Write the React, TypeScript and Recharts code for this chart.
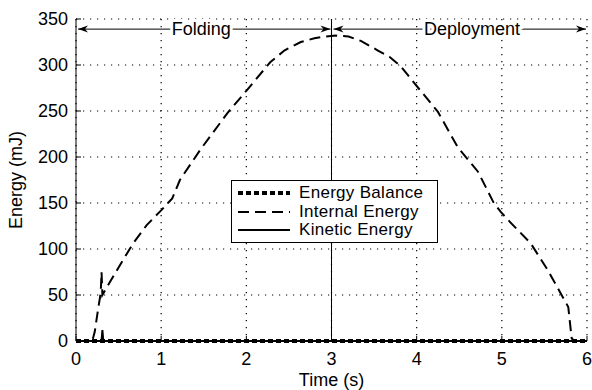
import { LineChart, Line, XAxis, YAxis, CartesianGrid, ReferenceLine, Legend } from 'recharts';

const internalTime = [0, 0.15, 0.2, 0.22, 0.26, 0.29, 0.3, 0.31, 0.36, 0.5, 0.67, 0.83, 1.0, 1.13, 1.22, 1.46, 1.78, 2.01, 2.28, 2.45, 2.64, 2.8, 2.93, 3.05, 3.2, 3.35, 3.54, 3.68, 3.81, 4.02, 4.25, 4.48, 4.72, 4.9, 4.99, 5.1, 5.34, 5.54, 5.78, 5.8, 5.82, 5.85, 6.0];
const internalEnergy = [0, 0, 3, 10, 35, 52, 75, 50, 58, 80, 106, 126, 142, 155, 175, 208, 248, 273, 303, 316, 325, 329, 331, 332, 331, 326, 316, 309, 299, 275, 249, 211, 184, 151, 140, 129, 106, 77, 37, 20, 3, 0, 0];
const kineticTime = [0, 0.3, 0.31, 0.32, 0.33, 6];
const kineticEnergy = [0, 0, 12, 0, 0, 0];
const balanceTime = [0, 6];
const balanceEnergy = [0, 0];

const xTicks = [0, 1, 2, 3, 4, 5, 6];
const yTicks = [0, 50, 100, 150, 200, 250, 300, 350];

const phaseNames = ['Folding', 'Deployment'];
const phaseStart = [0, 3];
const phaseEnd = [3, 6];
const phaseLabelAt = [0.49, 0.55];
const arrowLevel = 339;
const switchTime = 3;

const seriesNames = ['Energy Balance', 'Internal Energy', 'Kinetic Energy'];
const seriesWidth = [4, 2, 2];
const seriesDash = ['5 3', '11 6', undefined];

const toRows = (t: number[], v: number[]) => t.map((time, i) => ({ time, energy: v[i] }));
const balanceData = toRows(balanceTime, balanceEnergy);
const internalData = toRows(internalTime, internalEnergy);
const kineticData = toRows(kineticTime, kineticEnergy);

const FONT = '"Liberation Sans", Arial, sans-serif';

const PhaseArrow = (props: any) => {
  const { x1, x2, y1, name, at } = props;
  const head = (tip: number, dir: number) =>
    `M${tip},${y1} L${tip + dir * 10},${y1 - 3.5} L${tip + dir * 7},${y1} L${tip + dir * 10},${y1 + 3.5} Z`;
  const lx = x1 + 2;
  const rx = x2 - 1;
  return (
    <g>
      <line x1={lx} y1={y1} x2={rx} y2={y1} stroke="#000" strokeWidth={1} />
      <path d={head(lx, 1)} fill="#000" />
      <path d={head(rx, -1)} fill="#000" />
      <text
        x={x1 + (x2 - x1) * at}
        y={y1 + 6}
        textAnchor="middle"
        fontSize={18}
        fontFamily={FONT}
        fill="#000"
        stroke="#fff"
        strokeWidth={6}
        paintOrder="stroke"
      >
        {name}
      </text>
    </g>
  );
};

const renderLegend = () => (
  <div
    style={{
      border: '1.5px solid #000',
      background: '#fff',
      width: 207,
      height: 63,
      boxSizing: 'border-box',
      padding: '3px 0 0 6px',
      fontFamily: FONT,
    }}
  >
    {seriesNames.map((name, i) => (
      <div key={name} style={{ display: 'flex', alignItems: 'center', height: 18.5 }}>
        <svg width={52} height={10}>
          <line x1={0} y1={5} x2={52} y2={5} stroke="#000" strokeWidth={seriesWidth[i]} strokeDasharray={seriesDash[i]} />
        </svg>
        <span style={{ marginLeft: 9, fontSize: 17, lineHeight: '18.5px', color: '#000', letterSpacing: 0.3 }}>{name}</span>
      </div>
    ))}
  </div>
);

export default function App() {
  const tickStyle = { fill: '#000', fontSize: 18, fontFamily: FONT };
  return (
    <div style={{ position: 'absolute', left: 0, top: 0, background: '#fff', fontFamily: FONT }}>
      <LineChart width={592} height={390} margin={{ top: 19, right: 5, bottom: 0, left: 0 }}>
        <CartesianGrid xAxisId="b" yAxisId="l" stroke="#000" strokeWidth={1.2} strokeDasharray="1.2 5.8" />
        <XAxis
          xAxisId="b"
          dataKey="time"
          type="number"
          domain={[0, 6]}
          ticks={xTicks}
          allowDuplicatedCategory={false}
          height={49}
          stroke="#000"
          tickSize={-5}
          tickMargin={16}
          tick={tickStyle}
          label={(p: any) => {
            const vb = p.viewBox;
            return (
              <text x={vb.x + vb.width / 2} y={vb.y + 45} textAnchor="middle" fontSize={18} fontFamily={FONT} fill="#000">
                Time (s)
              </text>
            );
          }}
        />
        <XAxis xAxisId="t" orientation="top" dataKey="time" type="number" domain={[0, 6]} ticks={xTicks} height={0} stroke="#000" tick={false} tickSize={-5} />
        <YAxis
          yAxisId="l"
          type="number"
          domain={[0, 350]}
          ticks={yTicks}
          width={76}
          stroke="#000"
          tickSize={-5}
          tickMargin={13}
          tick={tickStyle}
          label={(p: any) => {
            const vb = p.viewBox;
            const cx = 16;
            const cy = vb.y + vb.height / 2;
            return (
              <text x={cx} y={cy} transform={`rotate(-90 ${cx} ${cy})`} textAnchor="middle" dominantBaseline="central" fontSize={18} fontFamily={FONT} fill="#000">
                Energy (mJ)
              </text>
            );
          }}
        />
        <YAxis yAxisId="r" orientation="right" type="number" domain={[0, 350]} ticks={yTicks} width={0} stroke="#000" tick={false} tickSize={-5} />
        <ReferenceLine xAxisId="b" yAxisId="l" x={switchTime} stroke="#000" strokeWidth={1} />
        {phaseNames.map((name, i) => (
          <ReferenceLine
            key={name}
            xAxisId="b"
            yAxisId="l"
            segment={[
              { x: phaseStart[i], y: arrowLevel },
              { x: phaseEnd[i], y: arrowLevel },
            ]}
            shape={(p: any) => <PhaseArrow {...p} name={name} at={phaseLabelAt[i]} />}
          />
        ))}
        <Line xAxisId="b" yAxisId="l" data={internalData} dataKey="energy" name={seriesNames[1]} type="linear" stroke="#000" strokeWidth={seriesWidth[1]} strokeDasharray={seriesDash[1]} dot={false} isAnimationActive={false} />
        <Line xAxisId="b" yAxisId="l" data={kineticData} dataKey="energy" name={seriesNames[2]} type="linear" stroke="#000" strokeWidth={seriesWidth[2]} dot={false} isAnimationActive={false} />
        <Line xAxisId="b" yAxisId="l" data={balanceData} dataKey="energy" name={seriesNames[0]} type="linear" stroke="#000" strokeWidth={seriesWidth[0]} strokeDasharray={seriesDash[0]} dot={false} isAnimationActive={false} />
        <Legend
          layout="vertical"
          align="center"
          verticalAlign="middle"
          content={renderLegend}
          wrapperStyle={{ left: 231, top: 180, width: 207, height: 63 }}
        />
      </LineChart>
    </div>
  );
}
